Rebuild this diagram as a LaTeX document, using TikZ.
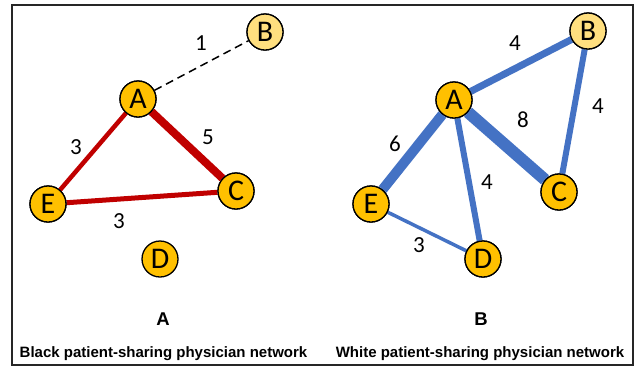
\documentclass[tikz,border=0pt]{standalone}
\usepackage{fontspec}
\setmainfont{Carlito}
\newfontfamily\capfont{Liberation Sans}
\definecolor{nodegold}{HTML}{FFC000}
\definecolor{nodelight}{HTML}{FFDF7F}
\definecolor{edgered}{HTML}{C00000}
\definecolor{edgeblue}{HTML}{4472C4}
\begin{document}
\begin{tikzpicture}[x=1pt,y=-1pt,
  vtx/.style={circle,draw=black,line width=1.3pt,fill=nodegold,minimum size=36pt,inner sep=0pt,font=\fontsize{30}{30}\selectfont},
  vtxl/.style={vtx,fill=nodelight},
  wlab/.style={font=\fontsize{23}{23}\selectfont},
  redge/.style={draw=edgered,line cap=butt},
  bedge/.style={draw=edgeblue,line cap=butt},
  captxt/.style={font=\capfont\bfseries\fontsize{15}{15}\selectfont,anchor=base},
  plab/.style={font=\capfont\bfseries\fontsize{18.5}{18.5}\selectfont}]
\useasboundingbox (0,0) rectangle (636,368);
\fill[white] (0,0) rectangle (636,368);
\draw[line width=1.5pt,black!85] (12,5) rectangle (633,365);
% Left panel
\node[vtxl] (lB) at (265,32) {B};
\node[vtx] (lA) at (138,99) {A};
\node[vtx] (lC) at (236,191) {C};
\node[vtx] (lE) at (48,204) {E};
\node[vtx] (lD) at (160,259) {D};
\path[redge,line width=4.5pt] (lA) -- (lE);
\path[redge,line width=5pt] (lE) -- (lC);
\path[redge,line width=8pt] (lA) -- (lC);
\draw[line width=1.5pt,dash pattern=on 8pt off 5pt] (lA) -- (lB);
\node[vtxl] at (lB) {B};
\node[vtx] at (lA) {A};
\node[vtx] at (lC) {C};
\node[vtx] at (lE) {E};
\node[wlab] (l1) at (201,43) {1};
\node[wlab] (l5) at (208,137) {5};
\node[wlab] (l3a) at (76,147) {3};
\node[wlab] (l3b) at (119,221) {3};
\node[plab] (pA) at (163,319) {A};
\node[captxt] (cA) at (163.5,357) {Black patient-sharing physician network};
% Right panel
\node[vtxl] (rB) at (588,31) {B};
\node[vtx] (rA) at (454,100) {A};
\node[vtx] (rC) at (559,192) {C};
\node[vtx] (rE) at (371,204) {E};
\node[vtx] (rD) at (483,259) {D};
\path[bedge,line width=7pt] (rA) -- (rB);
\path[bedge,line width=6pt] (rB) -- (rC);
\path[bedge,line width=12pt] (rA) -- (rC);
\path[bedge,line width=10pt] (rA) -- (rE);
\path[bedge,line width=6pt] (rA) -- (rD);
\path[bedge,line width=3.5pt] (rE) -- (rD);
\node[vtxl] at (rB) {B};
\node[vtx] at (rA) {A};
\node[vtx] at (rC) {C};
\node[vtx] at (rE) {E};
\node[vtx] at (rD) {D};
\node[wlab] (r4a) at (515,43) {4};
\node[wlab] (r4b) at (598,106) {4};
\node[wlab] (r8) at (523,120) {8};
\node[wlab] (r6) at (395,144) {6};
\node[wlab] (r4c) at (487,182) {4};
\node[wlab] (r3) at (419,245) {3};
\node[plab] (pB) at (481,319) {B};
\node[captxt] (cB) at (480,357) {White patient-sharing physician network};
\end{tikzpicture}
\end{document}
